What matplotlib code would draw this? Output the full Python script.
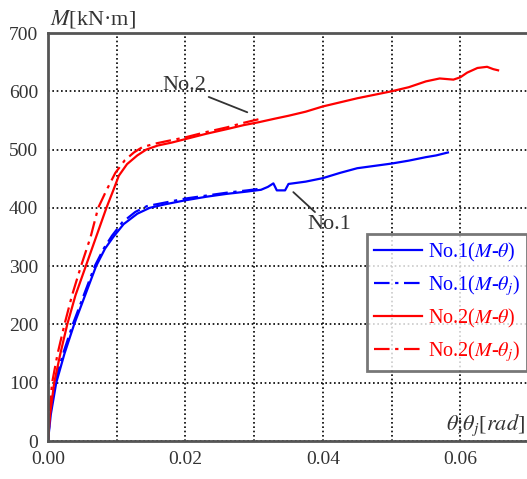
import numpy as np
import matplotlib.pyplot as plt

plt.rcParams['font.family'] = ['Liberation Serif', 'DejaVu Serif']
plt.rcParams['mathtext.fontset'] = 'stix'

# No.2 (M-theta), solid red
th2 = [0, 0.0003, 0.0009, 0.0018, 0.0028, 0.0040, 0.0055, 0.0070, 0.0085, 0.0095,
       0.0103, 0.0115, 0.0130, 0.0143, 0.016, 0.018, 0.020, 0.023, 0.026, 0.0285,
       0.0307, 0.033, 0.035, 0.0375, 0.040, 0.0425, 0.045, 0.0475, 0.050, 0.0525,
       0.055, 0.057, 0.059, 0.060, 0.061, 0.0625, 0.0639, 0.0648, 0.0655]
m2 = [0, 45, 100, 150, 200, 250, 300, 350, 400, 430,
      455, 475, 490, 500, 507, 512, 518, 527, 535, 542,
      547, 553, 558, 565, 574, 581, 588, 594, 600, 607,
      617, 622, 620, 624, 632, 640, 642, 638, 636]

# No.2 (M-theta_j), dash-dot red
th2j = [0, 0.0002, 0.0006, 0.0014, 0.0024, 0.0035, 0.0048, 0.0062, 0.0073, 0.0085,
        0.0098, 0.0112, 0.0125, 0.0137, 0.0155, 0.0175, 0.020, 0.023, 0.026, 0.0285, 0.031]
m2j = [0, 50, 100, 150, 200, 250, 300, 350, 400, 430,
       460, 482, 495, 504, 510, 515, 521, 530, 538, 546, 553]

# No.1 (M-theta), solid blue
th1 = [0, 0.0004, 0.0012, 0.0024, 0.0038, 0.0054, 0.0070, 0.0083, 0.0095, 0.011,
       0.013, 0.0148, 0.017, 0.020, 0.023, 0.026, 0.029, 0.031, 0.032, 0.0328,
       0.0333, 0.0345, 0.035, 0.0375, 0.040, 0.0425, 0.045, 0.0475, 0.050, 0.0525,
       0.055, 0.0565, 0.0582]
m1 = [0, 45, 100, 150, 200, 250, 300, 330, 350, 372,
      390, 400, 406, 413, 419, 424, 428, 431, 436, 442,
      430, 430, 441, 445, 451, 460, 468, 472, 476, 481,
      487, 490, 495]

# No.1 (M-theta_j), dash-dot blue
th1j = [0, 0.0003, 0.0010, 0.0022, 0.0036, 0.0052, 0.0068, 0.0081, 0.0093, 0.0108,
        0.0127, 0.0144, 0.017, 0.020, 0.023, 0.026, 0.029, 0.031]
m1j = [0, 45, 100, 150, 200, 250, 300, 330, 352, 375,
       393, 403, 409, 416, 421, 426, 430, 433]

xticks = [0, 0.01, 0.02, 0.03, 0.04, 0.05, 0.06]
xlabels = ['0.00', '', '0.02', '', '0.04', '', '0.06']
yticks = [0, 100, 200, 300, 400, 500, 600, 700]

fig = plt.figure(figsize=(5.27, 4.79), dpi=100)
ax = fig.add_axes([48 / 527, 38 / 479, 481 / 527, 408 / 479])

dashdot = (0, (7, 2.5, 1.5, 2.5))
ax.plot(th1, m1, color='#0000ff', lw=1.6, label=r'No.1($M$-$\theta$)')
ax.plot(th1j, m1j, color='#0000ff', lw=1.6, ls=dashdot, label=r'No.1($M$-$\theta_j$)')
ax.plot(th2, m2, color='#ff0000', lw=1.6, label=r'No.2($M$-$\theta$)')
ax.plot(th2j, m2j, color='#ff0000', lw=1.6, ls=dashdot, label=r'No.2($M$-$\theta_j$)')

ax.set_xlim(0, 0.07)
ax.set_ylim(0, 700)
ax.set_xticks(xticks)
ax.set_xticklabels(xlabels)
ax.set_yticks(yticks)
ax.tick_params(length=0, labelsize=14, colors='#333333', pad=7)
ax.grid(True, color='black', ls=(0, (1, 1.6)), lw=1.2)

for side in ['left', 'bottom', 'top']:
    ax.spines[side].set_color('#555555')
    ax.spines[side].set_linewidth(2)
ax.spines['right'].set_visible(False)

# annotations
ax.annotate('No.2', xy=(0.029, 564), xytext=(0.0166, 602), fontsize=16, color='#333333',
            arrowprops=dict(arrowstyle='-', color='#333333', lw=1.3,
                            shrinkA=0, shrinkB=0, relpos=(0.85, 0.1)))
ax.annotate('No.1', xy=(0.0357, 427), xytext=(0.0377, 364), fontsize=16, color='#333333',
            arrowprops=dict(arrowstyle='-', color='#333333', lw=1.3,
                            shrinkA=0, shrinkB=0, relpos=(0.25, 1.0)))

fig.text(50 / 527, 1 - 19 / 479, r'$M$[kN·m]', fontsize=16, color='#333333',
         ha='left', va='center')
fig.text(525 / 527, 1 - 430 / 479, r'$\theta$;$\theta_j$[$rad$]', fontsize=16,
         color='#333333', ha='right', va='baseline')

leg = ax.legend(loc='upper left', bbox_to_anchor=(0.663, 0.508), fontsize=14.5,
                frameon=True, fancybox=False, handlelength=2.4, handletextpad=0.3,
                labelspacing=0.45, borderpad=0.35, borderaxespad=0)
leg.get_frame().set_edgecolor('#555555')
leg.get_frame().set_linewidth(2)
for txt, col in zip(leg.get_texts(), ['#0000ff', '#0000ff', '#ff0000', '#ff0000']):
    txt.set_color(col)

fig.savefig('out.png', dpi=100)
